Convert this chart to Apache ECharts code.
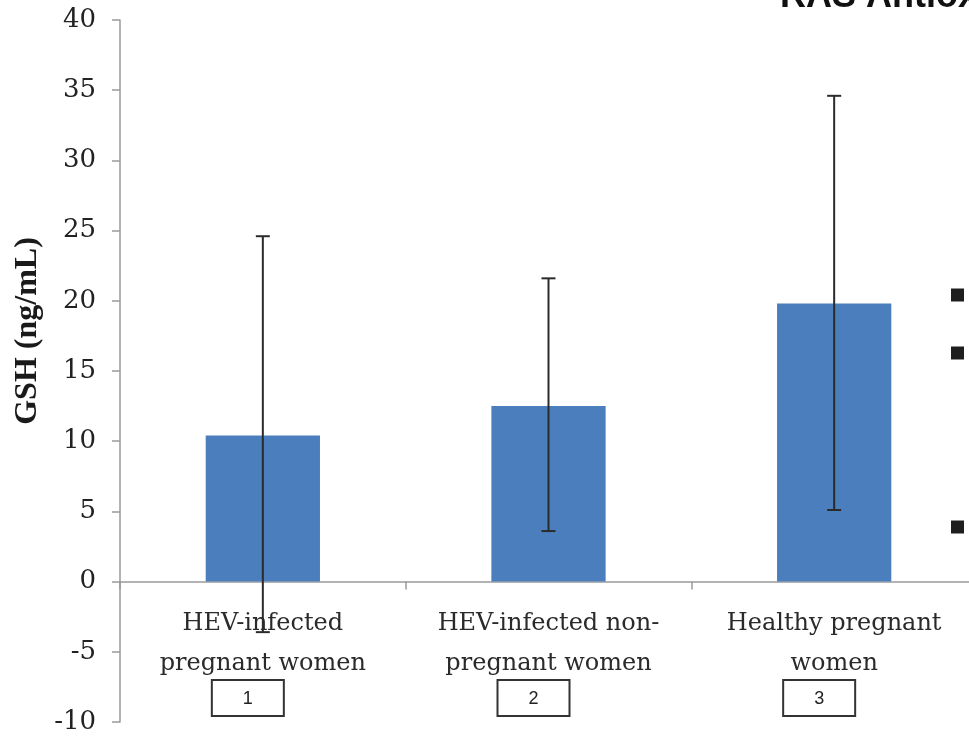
<!DOCTYPE html>
<html>
<head>
<meta charset="utf-8">
<script src="https://cdn.jsdelivr.net/npm/echarts@6/dist/echarts.min.js"></script>
<style>
  html, body { margin: 0; padding: 0; background: #fff; }
  #main { width: 969px; height: 737px; }
</style>
</head>
<body>
<div id="main"></div>
<script>
(function() {
    'use strict';

    var categories = ['HEV-infected\npregnant women', 'HEV-infected non-\npregnant women', 'Healthy pregnant\nwomen'];
    var boxLabels = ['1', '2', '3'];
    var gshMean = [10.4, 12.5, 19.8];
    var errLow = [-3.6, 3.6, 5.1];
    var errHigh = [24.6, 21.6, 34.6];
    var yMin = -10, yMax = 40, yStep = 5;

    var errData = gshMean.map(function(v, i) { return [i, errLow[i], errHigh[i]]; });

    var gridTop = 20, gridHeight = 702;
    // put the category axis on the zero line (labels included)
    var zeroOffset = -(0 - yMin) / (yMax - yMin) * gridHeight;

    var myChart = echarts.init(document.getElementById('main'));

    var option = {
        backgroundColor: '#fff',
        animation: false,
        grid: { left: 120, top: gridTop, width: 857, height: gridHeight, outerBoundsMode: 'none', containLabel: false },
        xAxis: {
            type: 'category',
            data: categories,
            offset: zeroOffset,
            axisLine: { onZero: false, lineStyle: { color: '#9a9a9a', width: 1.5 } },
            axisTick: { show: true, interval: 0, length: 8, lineStyle: { color: '#9a9a9a', width: 1.5 } },
            axisLabel: {
                interval: 0,
                hideOverlap: false,
                margin: 22,
                fontFamily: 'DejaVu Serif',
                fontSize: 24,
                lineHeight: 40,
                color: '#2a2a2a'
            }
        },
        yAxis: {
            type: 'value',
            min: yMin,
            max: yMax,
            interval: yStep,
            splitLine: { show: false },
            axisLine: { show: true, lineStyle: { color: '#9a9a9a', width: 1.5 } },
            axisTick: { show: true, length: 8, lineStyle: { color: '#9a9a9a', width: 1.5 } },
            axisLabel: {
                margin: 24,
                fontFamily: 'DejaVu Serif',
                fontSize: 26,
                color: '#222'
            }
        },
        series: [
            {
                type: 'bar',
                data: gshMean,
                barWidth: '40%',
                itemStyle: { color: '#4a7ebd' }
            },
            {
                type: 'custom',
                data: errData,
                z: 5,
                renderItem: function(params, api) {
                    var x = api.value(0);
                    var lo = api.coord([x, api.value(1)]);
                    var hi = api.coord([x, api.value(2)]);
                    var w = 7;
                    var style = { stroke: '#2b2b2b', lineWidth: 2 };
                    return {
                        type: 'group',
                        children: [
                            { type: 'line', shape: { x1: lo[0], y1: lo[1], x2: hi[0], y2: hi[1] }, style: style },
                            { type: 'line', shape: { x1: hi[0] - w, y1: hi[1], x2: hi[0] + w, y2: hi[1] }, style: style },
                            { type: 'line', shape: { x1: lo[0] - w, y1: lo[1], x2: lo[0] + w, y2: lo[1] }, style: style }
                        ]
                    };
                }
            }
        ]
    };
    myChart.setOption(option);

    // boxes with numbers under the category labels, plus slide leftovers
    var graphics = [];
    graphics.push({
        type: 'text',
        x: 28, y: 331,
        rotation: Math.PI / 2,
        style: {
            text: 'GSH (ng/mL)',
            font: 'bold 32px "Liberation Serif"',
            fill: '#1a1a1a',
            align: 'center',
            verticalAlign: 'middle'
        }
    });
    boxLabels.forEach(function(lab, i) {
        var cx = myChart.convertToPixel({ xAxisIndex: 0 }, i) - 15;
        graphics.push({
            type: 'rect',
            shape: { x: cx - 36, y: 680, width: 72, height: 36 },
            style: { fill: '#fff', stroke: '#333', lineWidth: 2 }
        });
        graphics.push({
            type: 'text',
            x: cx, y: 699,
            style: {
                text: lab,
                font: '18px "Liberation Sans"',
                fill: '#222',
                align: 'center',
                verticalAlign: 'middle'
            }
        });
    });
    [295, 353, 527].forEach(function(y) {
        graphics.push({
            type: 'rect',
            shape: { x: 951, y: y - 6.5, width: 13, height: 13 },
            style: { fill: '#1e1e1e' }
        });
    });
    graphics.push({
        type: 'text',
        x: 780, y: 15,
        style: {
            text: 'RAS Antioxidant',
            font: 'bold 36px "Liberation Sans"',
            fill: '#111',
            align: 'left',
            verticalAlign: 'bottom'
        }
    });
    myChart.setOption({ graphic: graphics });
})();
</script>
</body>
</html>
